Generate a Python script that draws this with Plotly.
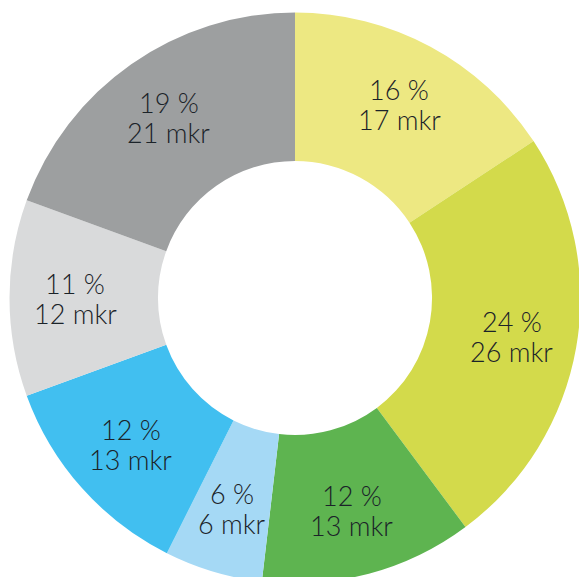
import math
import plotly.graph_objects as go

# Cost split per category, in mkr, clockwise from 12 o'clock
categories = ["A", "B", "C", "D", "E", "F", "G"]
values_mkr = [17, 26, 13, 6, 13, 12, 21]
colors = ["#EDE882", "#D3DA4B", "#5EB450", "#A5D9F5", "#41BFF0", "#D9DADB", "#9D9FA0"]

total = sum(values_mkr)
percents = [round(v / total * 100) for v in values_mkr]

W, H = 600, 600
cx, cy, R = 295, 298, 285.5
HOLE = 0.48
LABEL_R = 220      # label radius, px from centre
LINE_GAP = 15      # half the distance between the two label lines, px
FONT = dict(family="Lato", size=27, color="#1B2329", weight=300)

fig = go.Figure(
    go.Pie(
        labels=categories,
        values=values_mkr,
        textinfo="none",
        sort=False,
        direction="clockwise",
        rotation=0,
        hole=HOLE,
        marker=dict(colors=colors, line=dict(width=0)),
        hoverinfo="skip",
        domain=dict(
            x=[(cx - R) / W, (cx + R) / W],
            y=[1 - (cy + R) / H, 1 - (cy - R) / H],
        ),
    )
)

# Two-line labels at each slice's mid angle
cum = 0
for p, v in zip(percents, values_mkr):
    mid = (cum + v / 2) / total * 2 * math.pi
    cum += v
    px = cx + LABEL_R * math.sin(mid)
    py = cy - LABEL_R * math.cos(mid)
    for txt, dy in ((f"{p} %", -LINE_GAP), (f"{v} mkr", LINE_GAP)):
        fig.add_annotation(
            x=px / W,
            y=1 - (py + dy) / H,
            xref="paper",
            yref="paper",
            text=txt,
            showarrow=False,
            xanchor="center",
            yanchor="middle",
            font=FONT,
        )

fig.update_layout(
    width=W,
    height=H,
    margin=dict(l=0, r=0, t=0, b=0),
    showlegend=False,
    paper_bgcolor="white",
    plot_bgcolor="white",
)

fig.write_html("out.html")
